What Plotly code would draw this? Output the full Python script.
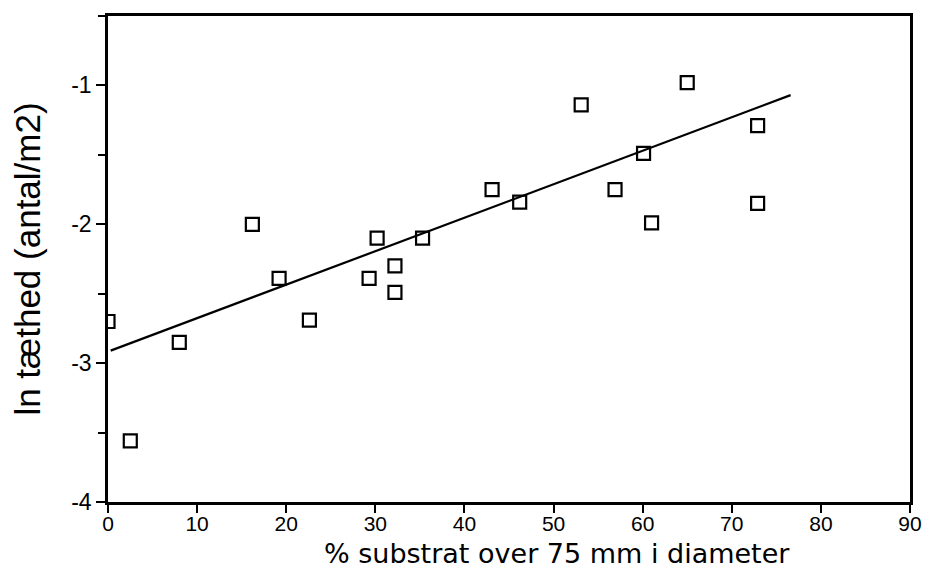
import plotly.graph_objects as go

substrate_pct = [0.0, 2.5, 8.0, 16.2, 19.2, 22.6, 29.3, 30.2, 32.2, 32.2, 35.3,
                 43.1, 46.2, 53.1, 56.9, 60.1, 61.0, 65.0, 72.9, 72.9]
ln_density = [-2.70, -3.56, -2.85, -2.00, -2.39, -2.69, -2.39, -2.10, -2.30, -2.49, -2.10,
              -1.75, -1.84, -1.14, -1.75, -1.49, -1.99, -0.98, -1.29, -1.85]

# Regression line end points
fit_x = [0.3, 76.6]
fit_y = [-2.91, -1.07]

x_tick_vals = [0, 10, 20, 30, 40, 50, 60, 70, 80, 90]
x_tick_labels = ["0", "10", "20", "30", "40", "50", "60", "70", "80", "90"]
y_tick_vals = [-4, -3, -2, -1]
y_tick_labels = ["-4", "-3", "-2", "-1"]

x_title = "% substrat over 75 mm i diameter"
y_title = "ln tæthed (antal/m2)"

FONT = "Liberation Sans, Arial, sans-serif"
WIDE = "DejaVu Sans, Liberation Sans, sans-serif"

fig = go.Figure()
fig.add_trace(go.Scatter(
    x=fit_x, y=fit_y, mode="lines",
    line=dict(color="black", width=2.2), showlegend=False, hoverinfo="skip"))
fig.add_trace(go.Scatter(
    x=substrate_pct, y=ln_density, mode="markers",
    marker=dict(symbol="square-open", size=13, color="black",
                line=dict(color="black", width=2.2)),
    showlegend=False))

fig.add_annotation(
    text=x_title, xref="paper", yref="paper", x=0.56, y=0,
    xanchor="center", yanchor="top", yshift=-35, showarrow=False,
    borderpad=0, font=dict(size=27, family=WIDE, color="black"))

fig.update_layout(
    width=919, height=567,
    margin=dict(l=100, r=14, t=5, b=73),
    paper_bgcolor="white", plot_bgcolor="white",
    font=dict(family=FONT, color="black"),
    xaxis=dict(
        range=[0, 90], tickvals=x_tick_vals, ticktext=x_tick_labels,
        showgrid=False, zeroline=False,
        showline=True, linecolor="black", linewidth=2.5, mirror=True,
        ticks="outside", ticklen=8, tickwidth=2, tickcolor="black",
        tickfont=dict(size=21, family=FONT), ticklabelstandoff=-7,
    ),
    yaxis=dict(
        range=[-4, -0.5], tickvals=y_tick_vals, ticktext=y_tick_labels,
        showgrid=False, zeroline=False,
        showline=True, linecolor="black", linewidth=2.5, mirror=True,
        ticks="outside", ticklen=9, tickwidth=2, tickcolor="black",
        tickfont=dict(size=23, family=FONT),
        minor=dict(dtick=0.5, ticks="outside", ticklen=7, tickwidth=1.5,
                   tickcolor="black", showgrid=False),
        title=dict(text=y_title, font=dict(size=35, family=FONT), standoff=22),
    ),
)

fig.write_html("out.html")
